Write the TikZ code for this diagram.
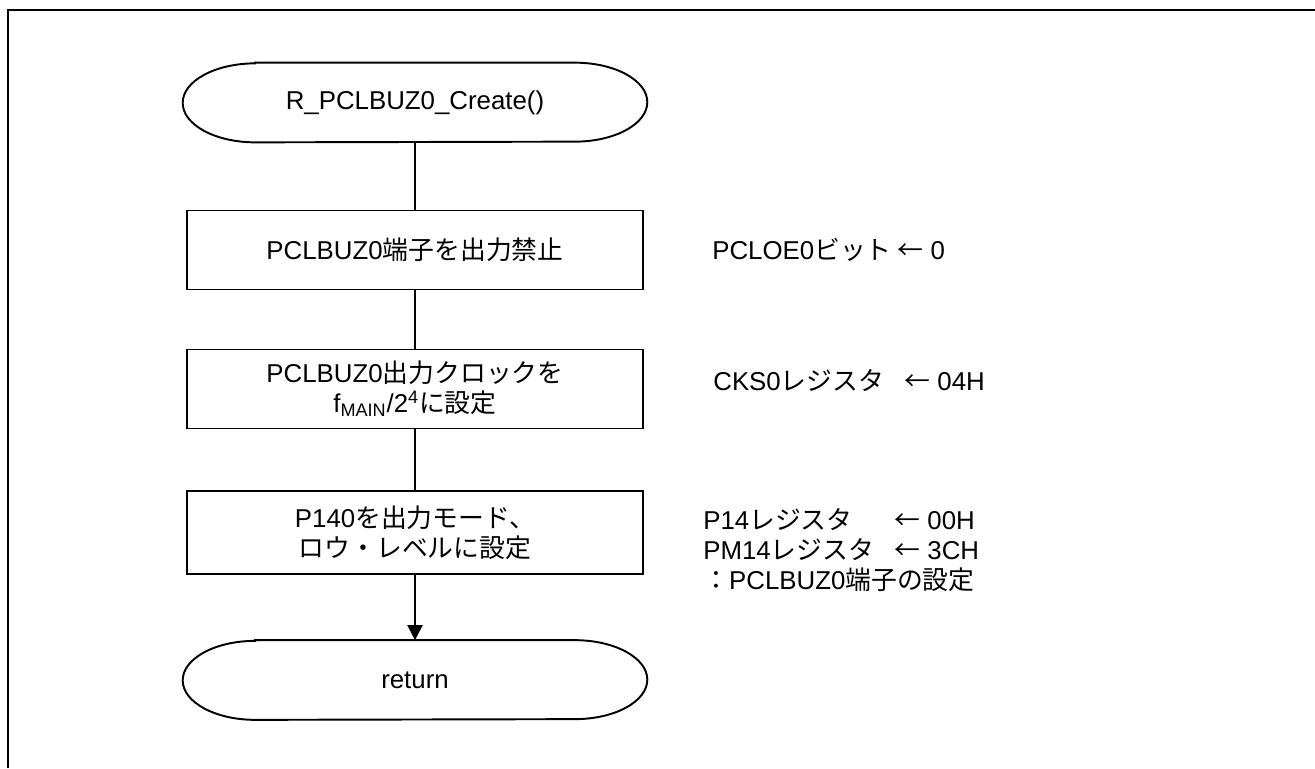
\documentclass[tikz,border=0pt]{standalone}
\usepackage{fontspec}
\setmainfont{Liberation Sans}
\newfontfamily\jp{Noto Sans CJK JP}
\usetikzlibrary{arrows.meta}

\tikzset{
	proc/.style={draw, line width=1.1pt, minimum width=9.12cm, minimum height=1.58cm, inner sep=0pt, align=center},
	term/.style={minimum width=9.28cm, minimum height=1.58cm, inner sep=0pt},
	note/.style={anchor=west, inner sep=0pt, align=left},
	flow/.style={line width=1.1pt},
}

% rounded ends of a terminal
\newcommand{\termshape}[1]{%
	\draw[line width=1.1pt] ([xshift=1.45cm]#1.north west) -- ([xshift=-1.45cm]#1.north east)
		arc[start angle=90, end angle=-90, x radius=1.45cm, y radius=0.79cm]
		-- ([xshift=1.45cm]#1.south west)
		arc[start angle=270, end angle=90, x radius=1.45cm, y radius=0.79cm] -- cycle;}

\begin{document}
\begin{tikzpicture}[x=0.02cm, y=-0.02cm, font=\fontsize{14.7pt}{17pt}\selectfont]
		\useasboundingbox (0,0) rectangle (1315,768);

		% Frame
		\draw[line width=1.5pt] (8,768) -- (8,10) -- (1315,10);

		% Flow
		\node[term] (start) at (415,102.5) {R\_PCLBUZ0\_Create()};
		\termshape{start}
		\node[proc] (pin) at (415,250) {PCLBUZ0{\jp 端子を出力禁止}};
		\node[proc] (clk) at (415,389) {PCLBUZ0{\jp 出力クロックを}\\f\textsubscript{MAIN}/2\textsuperscript{4}{\jp に設定}};
		\node[proc, minimum height=1.66cm] (port) at (415,532.5) {P140{\jp を出力モード、}\\{\jp ロウ・レベルに設定}};
		\node[term] (end) at (415,680) {return};
		\termshape{end}

		\draw[flow] (start) -- (pin);
		\draw[flow] (pin) -- (clk);
		\draw[flow] (clk) -- (port);
		\draw[flow, -{Triangle[length=0.3cm, width=0.3cm]}] (port) -- (end);

		% Register settings
		\node[note] (pinnote) at (712,250) {PCLOE0{\jp ビット ←} 0};
		\node[note] (clknote) at (713,381) {\makebox[7.4em][l]{CKS0{\jp レジスタ}}{\jp ←} 04H};
		\node[note] (portnote) at (703,550) {\makebox[7.4em][l]{P14{\jp レジスタ}}{\jp ←} 00H\\
			\makebox[7.4em][l]{PM14{\jp レジスタ}}{\jp ←} 3CH\\
			{\jp ：}PCLBUZ0{\jp 端子の設定}};
\end{tikzpicture}
\end{document}
